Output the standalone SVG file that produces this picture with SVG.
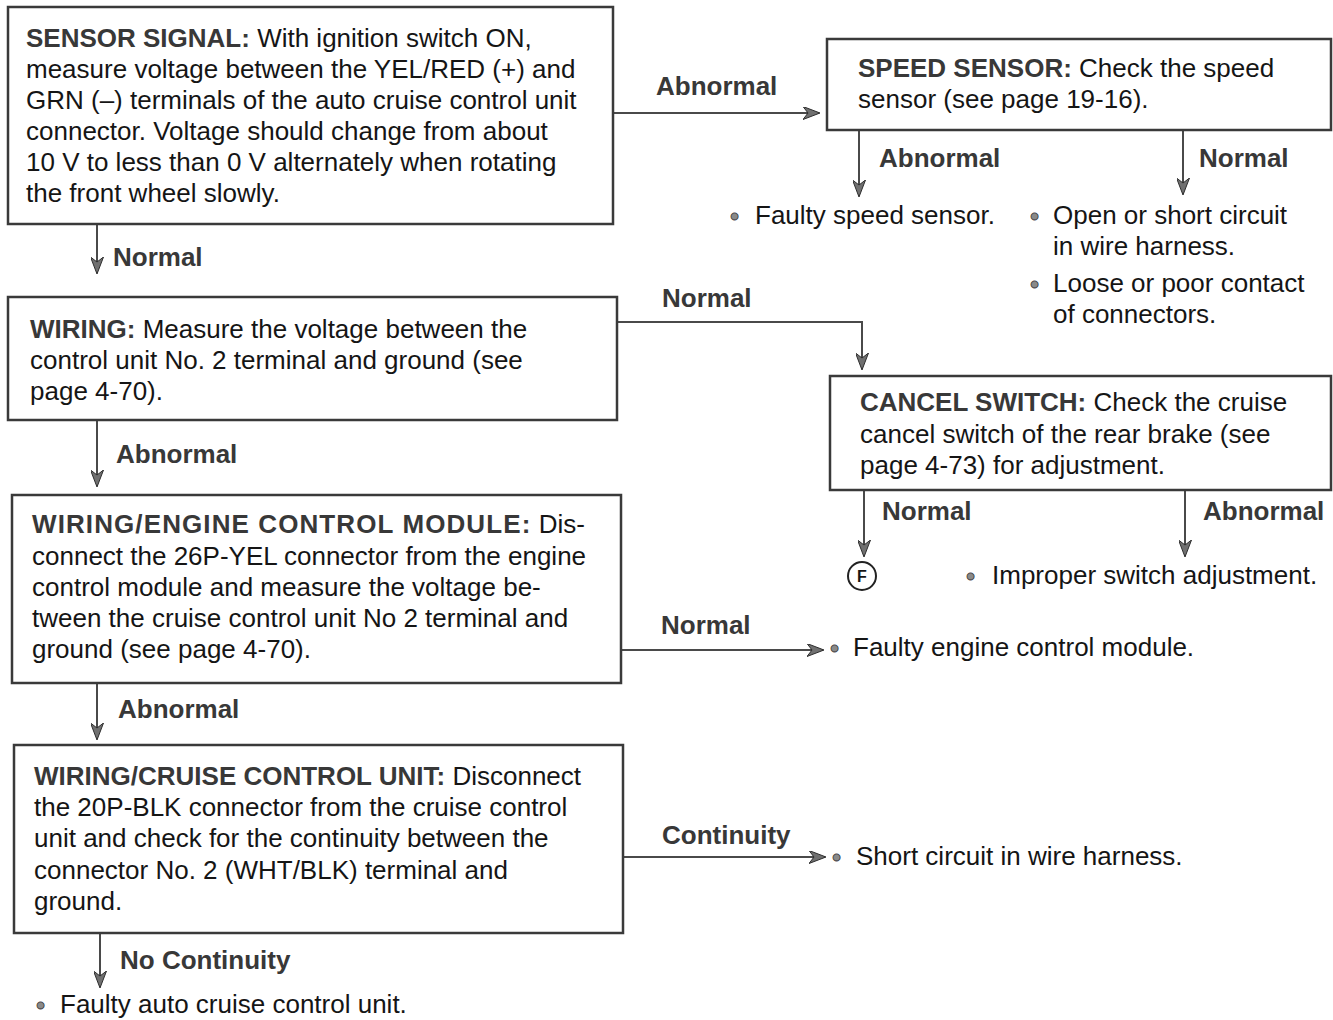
<svg xmlns="http://www.w3.org/2000/svg" width="1333" height="1020" viewBox="0 0 1333 1020">
  <style>
    text { font-family: "Liberation Sans", Arial, sans-serif; font-size: 26px; fill: #151515; }
    .b { font-weight: bold; fill: #383838; }
    .lbl { font-weight: bold; fill: #383838; }
    .bul { fill: #8a8a8a; stroke: #333; stroke-width: 0.8; font-size: 26px; }
    .box { fill: #fff; stroke: #3a3a3a; stroke-width: 2.5; }
    .wire { fill: none; stroke: #4a4a4a; stroke-width: 2; }
  </style>
  <defs>
    <marker id="arr" viewBox="0 0 17 13" refX="16" refY="6.5" markerWidth="17" markerHeight="13" markerUnits="userSpaceOnUse" orient="auto">
      <path d="M0,0 L17,6.5 L0,13 L5,6.5 Z" fill="#707070" stroke="#2e2e2e" stroke-width="1"/>
    </marker>
  </defs>

  <rect width="1333" height="1020" fill="#fff"/>

  <!-- connectors -->
  <g id="connectors">
    <path class="wire" d="M97,224 V273" marker-end="url(#arr)"/>
    <path class="wire" d="M97,420 V486" marker-end="url(#arr)"/>
    <path class="wire" d="M97,683 V739" marker-end="url(#arr)"/>
    <path class="wire" d="M100,933 V987" marker-end="url(#arr)"/>
    <path class="wire" d="M613,113 H819" marker-end="url(#arr)"/>
    <path class="wire" d="M859,130 V196" marker-end="url(#arr)"/>
    <path class="wire" d="M1183,130 V194" marker-end="url(#arr)"/>
    <path class="wire" d="M617,322 H862 V369" marker-end="url(#arr)"/>
    <path class="wire" d="M864,490 V556" marker-end="url(#arr)"/>
    <path class="wire" d="M1185,490 V556" marker-end="url(#arr)"/>
    <path class="wire" d="M621,650 H823" marker-end="url(#arr)"/>
    <path class="wire" d="M623,857 H825" marker-end="url(#arr)"/>

    <text class="lbl" x="113" y="266">Normal</text>
    <text class="lbl" x="116" y="463">Abnormal</text>
    <text class="lbl" x="118" y="718">Abnormal</text>
    <text class="lbl" x="120" y="969">No Continuity</text>
    <text class="lbl" x="656" y="95">Abnormal</text>
    <text class="lbl" x="879" y="167">Abnormal</text>
    <text class="lbl" x="1199" y="167">Normal</text>
    <text class="lbl" x="662" y="307">Normal</text>
    <text class="lbl" x="882" y="520">Normal</text>
    <text class="lbl" x="1203" y="520">Abnormal</text>
    <text class="lbl" x="661" y="634">Normal</text>
    <text class="lbl" x="662" y="844">Continuity</text>
  </g>

  <!-- check steps -->
  <g id="sensor-signal">
    <rect class="box" x="8" y="7" width="605" height="217"/>
    <text x="26" y="47"><tspan class="b">SENSOR SIGNAL:</tspan> With ignition switch ON,</text>
    <text x="26" y="78">measure voltage between the YEL/RED (+) and</text>
    <text x="26" y="109">GRN (–) terminals of the auto cruise control unit</text>
    <text x="26" y="140">connector. Voltage should change from about</text>
    <text x="26" y="171">10 V to less than 0 V alternately when rotating</text>
    <text x="26" y="202">the front wheel slowly.</text>
  </g>

  <g id="wiring">
    <rect class="box" x="8" y="297" width="609" height="123"/>
    <text x="30" y="338"><tspan class="b">WIRING:</tspan> Measure the voltage between the</text>
    <text x="30" y="369">control unit No. 2 terminal and ground (see</text>
    <text x="30" y="400">page 4-70).</text>
  </g>

  <g id="wiring-ecm">
    <rect class="box" x="12" y="495" width="609" height="188"/>
    <text x="32" y="533"><tspan class="b" letter-spacing="1.1">WIRING/ENGINE CONTROL MODULE:</tspan> Dis-</text>
    <text x="32" y="565">connect the 26P-YEL connector from the engine</text>
    <text x="32" y="596">control module and measure the voltage be-</text>
    <text x="32" y="627">tween the cruise control unit No 2 terminal and</text>
    <text x="32" y="658">ground (see page 4-70).</text>
  </g>

  <g id="wiring-ccu">
    <rect class="box" x="14" y="745" width="609" height="188"/>
    <text x="34" y="785"><tspan class="b">WIRING/CRUISE CONTROL UNIT:</tspan> Disconnect</text>
    <text x="34" y="816">the 20P-BLK connector from the cruise control</text>
    <text x="34" y="847">unit and check for the continuity between the</text>
    <text x="34" y="879">connector No. 2 (WHT/BLK) terminal and</text>
    <text x="34" y="910">ground.</text>
  </g>

  <g id="speed-sensor">
    <rect class="box" x="827" y="39" width="504" height="91"/>
    <text x="858" y="77"><tspan class="b">SPEED SENSOR:</tspan> Check the speed</text>
    <text x="858" y="108">sensor (see page 19-16).</text>
  </g>

  <g id="cancel-switch">
    <rect class="box" x="830" y="376" width="501" height="114"/>
    <text x="860" y="411"><tspan class="b">CANCEL SWITCH:</tspan> Check the cruise</text>
    <text x="860" y="443">cancel switch of the rear brake (see</text>
    <text x="860" y="474">page 4-73) for adjustment.</text>
  </g>

  <!-- results -->
  <g id="result-faulty-sensor">
    <text class="bul" x="730" y="225">•</text>
    <text x="755" y="224">Faulty speed sensor.</text>
  </g>
  <g id="result-harness-open">
    <text class="bul" x="1030" y="225">•</text>
    <text x="1053" y="224">Open or short circuit</text>
    <text x="1053" y="255">in wire harness.</text>
    <text class="bul" x="1030" y="293">•</text>
    <text x="1053" y="292">Loose or poor contact</text>
    <text x="1053" y="323">of connectors.</text>
  </g>
  <g id="goto-f">
    <circle cx="862" cy="576" r="14" fill="#fff" stroke="#222" stroke-width="2"/>
    <text x="862" y="582" text-anchor="middle" style="font-size:16px;font-weight:bold">F</text>
  </g>
  <g id="result-switch-adjust">
    <text class="bul" x="966" y="585">•</text>
    <text x="992" y="584">Improper switch adjustment.</text>
  </g>
  <g id="result-ecm">
    <text class="bul" x="830" y="657">•</text>
    <text x="853" y="656">Faulty engine control module.</text>
  </g>
  <g id="result-harness-short">
    <text class="bul" x="832" y="866">•</text>
    <text x="856" y="865">Short circuit in wire harness.</text>
  </g>
  <g id="result-ccu">
    <text class="bul" x="36" y="1014">•</text>
    <text x="60" y="1013">Faulty auto cruise control unit.</text>
  </g>
</svg>
